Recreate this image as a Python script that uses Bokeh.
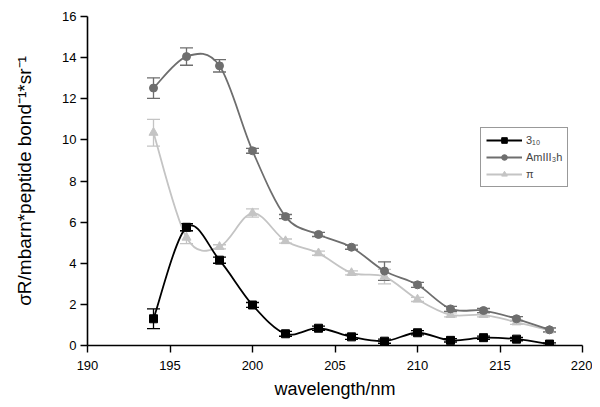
import numpy as np
from bokeh.plotting import figure
from bokeh.models import ColumnDataSource, Whisker, TeeHead, Legend, LegendItem, Range1d
from bokeh.embed import file_html
from bokeh.resources import INLINE

wavelength = [194, 196, 198, 200, 202, 204, 206, 208, 210, 212, 214, 216, 218]

s310 = [1.3, 5.75, 4.15, 1.97, 0.57, 0.84, 0.42, 0.21, 0.62, 0.25, 0.38, 0.31, 0.07]
s310_err = [0.48, 0.17, 0.15, 0.12, 0.12, 0.1, 0.12, 0.1, 0.1, 0.08, 0.08, 0.08, 0.06]

am = [12.52, 14.05, 13.6, 9.47, 6.27, 5.4, 4.78, 3.62, 2.95, 1.78, 1.7, 1.3, 0.76]
am_err = [0.5, 0.42, 0.3, 0.12, 0.1, 0.1, 0.1, 0.45, 0.12, 0.12, 0.1, 0.1, 0.1]

pi_v = [10.35, 5.25, 4.8, 6.44, 5.08, 4.49, 3.53, 3.35, 2.24, 1.49, 1.49, 1.13, 0.74]
pi_err = [0.65, 0.3, 0.1, 0.2, 0.1, 0.1, 0.1, 0.35, 0.1, 0.1, 0.1, 0.1, 0.1]

labels = ["3\u2081\u2080", "AmIII\u2083h", "\u03c0"]
colors = ["#000000", "#6e6e6e", "#c4c4c4"]
markers = ["square", "circle", "triangle"]

x_ticks = [190, 195, 200, 205, 210, 215, 220]
y_ticks = [0, 2, 4, 6, 8, 10, 12, 14, 16]

FONT = "Liberation Sans"

p = figure(width=592, height=401, output_backend="svg", toolbar_location=None,
           x_range=Range1d(190, 220), y_range=Range1d(0, 16),
           min_border_left=87, min_border_right=10, min_border_top=16, min_border_bottom=54)
p.outline_line_color = None
p.xgrid.visible = False
p.ygrid.visible = False

for ax in (p.xaxis[0], p.yaxis[0]):
    ax.axis_line_width = 1.6
    ax.axis_line_color = "black"
    ax.major_tick_line_width = 1.4
    ax.minor_tick_line_width = 1.2
    ax.major_tick_in = 0
    ax.major_tick_out = 7
    ax.minor_tick_in = 0
    ax.minor_tick_out = 4
    ax.major_label_text_font = FONT
    ax.major_label_text_font_size = "13px"
    ax.major_label_text_color = "black"
    ax.axis_label_text_font = FONT
    ax.axis_label_text_font_size = "18px"
    ax.axis_label_text_font_style = "normal"
    ax.axis_label_text_color = "black"

p.yaxis[0].axis_label_text_font_size = "19px"
p.xaxis.ticker = x_ticks
p.xaxis[0].ticker.num_minor_ticks = 2
p.yaxis.ticker = y_ticks
p.yaxis[0].ticker.num_minor_ticks = 2
p.xaxis.axis_label = "wavelength/nm"
p.yaxis.axis_label = "\u03c3R/mbarn*peptide bond\u207b\u00b9*sr\u207b\u00b9"
p.xaxis.major_label_standoff = 8
p.yaxis.major_label_standoff = 4
p.xaxis.axis_label_standoff = 6
p.yaxis.axis_label_standoff = 24


def bezier_controls(xs, ys):
    xs = np.asarray(xs, float)
    ys = np.asarray(ys, float)
    n = len(xs)
    x0, y0, x1, y1, cx0, cy0, cx1, cy1 = ([] for _ in range(8))
    for i in range(n - 1):
        im = max(i - 1, 0)
        ip2 = min(i + 2, n - 1)
        x0.append(xs[i]); y0.append(ys[i])
        x1.append(xs[i + 1]); y1.append(ys[i + 1])
        cx0.append(xs[i] + (xs[i + 1] - xs[im]) / 6.0)
        cy0.append(ys[i] + (ys[i + 1] - ys[im]) / 6.0)
        cx1.append(xs[i + 1] - (xs[ip2] - xs[i]) / 6.0)
        cy1.append(ys[i + 1] - (ys[ip2] - ys[i]) / 6.0)
    return dict(x0=x0, y0=y0, x1=x1, y1=y1, cx0=cx0, cy0=cy0, cx1=cx1, cy1=cy1)


series = [(s310, s310_err), (am, am_err), (pi_v, pi_err)]
items = []
order = [2, 1, 0]
rend = {}
for k in order:
    vals, errs = series[k]
    col = colors[k]
    src = ColumnDataSource(dict(x=wavelength, y=vals,
                                lo=[v - e for v, e in zip(vals, errs)],
                                hi=[v + e for v, e in zip(vals, errs)]))
    bz = p.bezier(source=ColumnDataSource(bezier_controls(wavelength, vals)),
                  x0="x0", y0="y0", x1="x1", y1="y1", cx0="cx0", cy0="cy0",
                  cx1="cx1", cy1="cy1", line_color=col, line_width=1.8)
    w = Whisker(source=src, base="x", lower="lo", upper="hi",
                line_color=col, line_width=1.3,
                upper_head=TeeHead(size=13, line_color=col, line_width=1.3),
                lower_head=TeeHead(size=13, line_color=col, line_width=1.3))
    p.add_layout(w)
    sc = p.scatter(x="x", y="y", source=src, marker=markers[k], size=8 if k != 2 else 9,
                   fill_color=col, line_color=col)
    rend[k] = (bz, sc)

for k in range(3):
    items.append(LegendItem(label=labels[k], renderers=list(rend[k])))

legend = Legend(items=items, location=(393, 158))
legend.label_text_font = FONT
legend.label_text_font_size = "11px"
legend.glyph_width = 36
legend.glyph_height = 14
legend.spacing = 3
legend.padding = 5
legend.margin = 0
legend.label_standoff = 4
legend.border_line_color = "#333333"
legend.border_line_width = 1
legend.background_fill_alpha = 1
p.add_layout(legend, "center")

open("out.html", "w").write(file_html(p, INLINE))
